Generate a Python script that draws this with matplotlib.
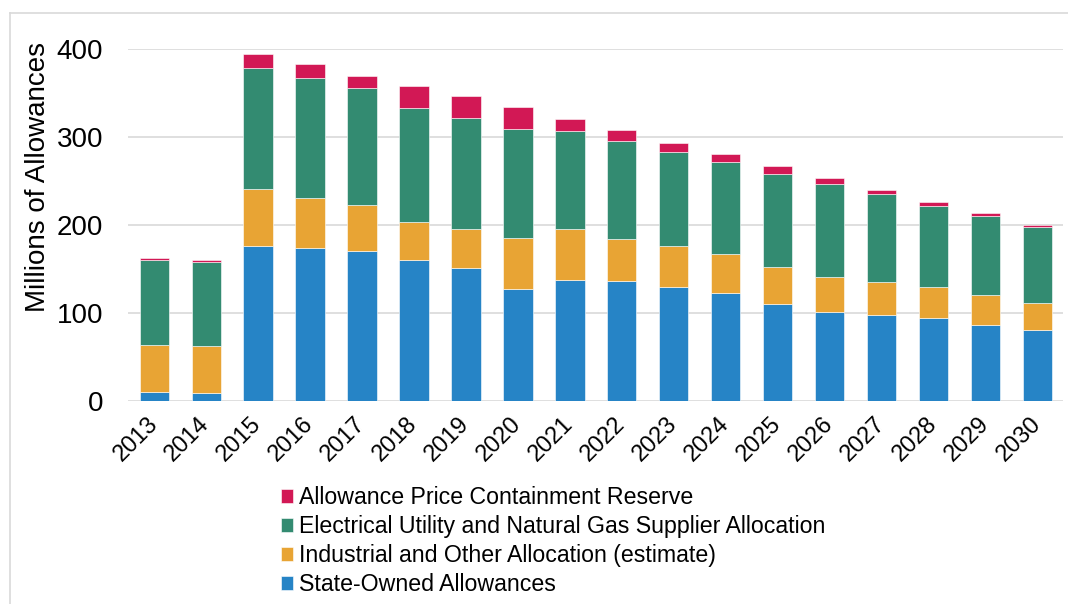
import matplotlib
matplotlib.use("Agg")
import matplotlib.pyplot as plt
from matplotlib.lines import Line2D
import numpy as np

plt.rcParams['font.family'] = ['Liberation Sans', 'DejaVu Sans']

years = [str(y) for y in range(2013, 2031)]
state_owned = [9.8, 8.7, 176.1, 173.9, 170.5, 159.8, 150.8, 126.9, 137.5, 136.4,
               129.5, 122.3, 110.6, 101.1, 97.7, 94.3, 86.4, 80.3]
industrial = [53.8, 53.8, 64.4, 57.2, 52.6, 43.6, 44.3, 58.7, 57.6, 48.1,
              46.6, 44.7, 42.1, 40.2, 37.5, 35.2, 33.7, 31.4]
electrical = [96.2, 95.1, 138.3, 135.9, 132.6, 129.9, 126.5, 123.9, 112.1, 111.0,
              106.9, 104.2, 105.6, 105.7, 99.6, 92.5, 90.5, 86.0]
reserve = [2.3, 2.2, 15.5, 15.6, 13.6, 24.7, 24.6, 25.0, 13.3, 12.1,
           10.2, 9.1, 8.4, 6.0, 4.6, 4.5, 3.0, 1.9]

series_names = ["State-Owned Allowances",
                "Industrial and Other Allocation (estimate)",
                "Electrical Utility and Natural Gas Supplier Allocation",
                "Allowance Price Containment Reserve"]
series_values = [state_owned, industrial, electrical, reserve]
colors = ["#2684C6", "#E8A434", "#338B71", "#D21855"]
y_ticks = [0, 100, 200, 300, 400]

W, H = 1068, 604
fig = plt.figure(figsize=(W / 100, H / 100), dpi=100)
ax = fig.add_axes([128.3 / W, 1 - 401 / H, (1063.3 - 128.3) / W, (401 - 49) / H])

x = np.arange(len(years))
bottom = np.zeros(len(years))
handles = []
for name, vals, c in zip(series_names, series_values, colors):
    b = ax.bar(x, vals, width=0.565, bottom=bottom, color=c, label=name,
               edgecolor='white', linewidth=0.4, zorder=3)
    handles.append(b)
    bottom += np.array(vals)

ax.set_xlim(-0.5, len(years) - 0.5)
ax.set_ylim(0, 400)
ax.set_yticks(y_ticks)
ax.set_yticklabels([str(v) for v in y_ticks], fontsize=20, color='#000000')
ax.set_xticks(x)
ax.set_xticklabels(years, rotation=45, ha='right', va='center',
                   rotation_mode='anchor', fontsize=17)
ax.tick_params(axis='y', length=0, pad=18)
ax.tick_params(axis='x', length=0, pad=14)
ax.grid(axis='y', color='#D9D9D9', linewidth=1.2, zorder=0)
for s in ax.spines.values():
    s.set_visible(False)

fig.text(38.5 / W, 1 - 177.5 / H, "Millions of Allowances", rotation=90,
         ha='center', va='center', fontsize=20)

leg = fig.legend(handles[::-1], series_names[::-1], loc='upper left',
                 bbox_to_anchor=(281 / W, 1 - 486 / H), frameon=False,
                 fontsize=16.7, handlelength=0.52, handleheight=0.52,
                 handletextpad=0.26, labelspacing=0.26, borderpad=0,
                 borderaxespad=0)

# outer chart frame (partially cropped in reference)
fig.add_artist(Line2D([9.5 / W, 1.0], [1 - 13.3 / H, 1 - 13.3 / H],
                      transform=fig.transFigure, color='#D9D9D9', linewidth=1.2))
fig.add_artist(Line2D([9.5 / W, 9.5 / W], [1 - 13.3 / H, 0.0],
                      transform=fig.transFigure, color='#D9D9D9', linewidth=1.2))

fig.savefig("out.png", dpi=100)
